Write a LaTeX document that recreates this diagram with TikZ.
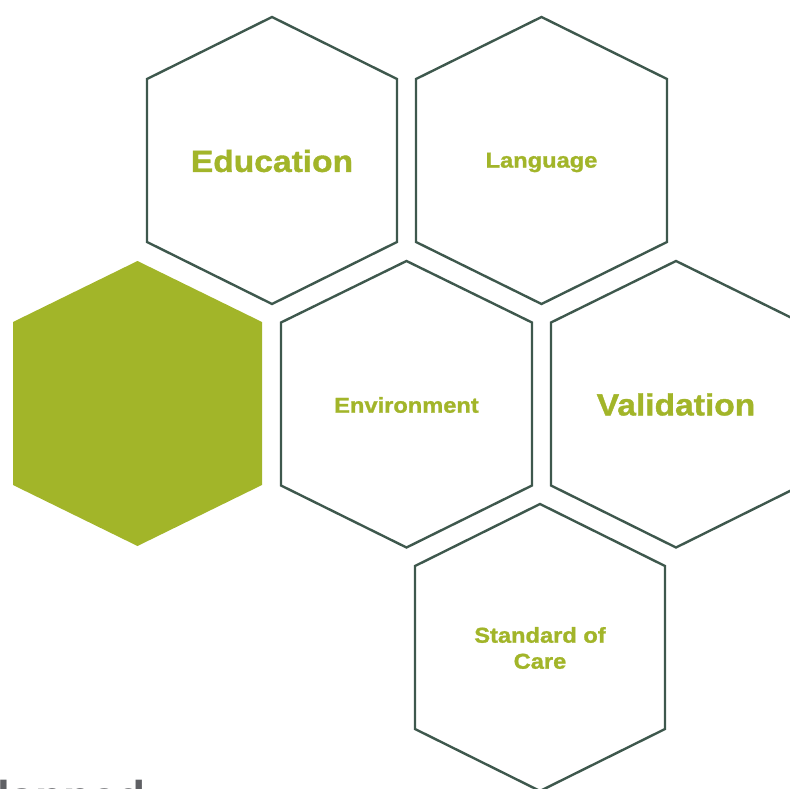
\documentclass[tikz,border=0pt]{standalone}
\usepackage{fontspec}
\setmainfont{Liberation Sans}
\newfontfamily\labelfont[FakeStretch=1.1,FakeBold=1.2]{Liberation Sans Bold}
\definecolor{hexgreen}{RGB}{162,181,41}
\definecolor{hexline}{RGB}{62,88,77}
\definecolor{slidegray}{RGB}{95,96,100}
\tikzset{
  hexborder/.style={draw=hexline, line width=2.4pt, line join=miter, fill=white},
  hexfill/.style={fill=hexgreen, draw=none},
  smalllabel/.style={text=hexgreen, font=\labelfont\fontsize{21.5}{26}\selectfont, align=center},
  biglabel/.style={text=hexgreen, font=\labelfont\fontsize{30.5}{36}\selectfont, align=center},
}
\begin{document}
\begin{tikzpicture}[x=1pt,y=-1pt]
\useasboundingbox (0,0) rectangle (790,789);
\clip (0,0) rectangle (790,789);
% hexagons (centre, half width 125, shoulder 81.5, tip 143.5)
\draw[hexborder] (272,160.5) ++(0,-143.5) -- ++(125,62) -- ++(0,163) -- ++(-125,62) -- ++(-125,-62) -- ++(0,-163) -- cycle;
\draw[hexborder] (541.5,160.5) ++(0,-143.5) -- ++(125.5,62) -- ++(0,163) -- ++(-125.5,62) -- ++(-125.5,-62) -- ++(0,-163) -- cycle;
\fill[hexfill] (137.5,403.5) ++(0,-142.5) -- ++(124.5,61) -- ++(0,163) -- ++(-124.5,61) -- ++(-124.5,-61) -- ++(0,-163) -- cycle;
\draw[hexborder] (406.5,404) ++(0,-143) -- ++(125.5,61.5) -- ++(0,163) -- ++(-125.5,62) -- ++(-125.5,-62) -- ++(0,-163) -- cycle;
\draw[hexborder] (676,404) ++(0,-143) -- ++(125,61.5) -- ++(0,163) -- ++(-125,62) -- ++(-125,-62) -- ++(0,-163) -- cycle;
\draw[hexborder] (540,647.5) ++(0,-143.5) -- ++(125,62) -- ++(0,163) -- ++(-125,62) -- ++(-125,-62) -- ++(0,-163) -- cycle;
% labels
\node[biglabel]   (edu)  at (272,161)   {Education};
\node[smalllabel] (lang) at (541.5,162.5) {Language};
\node[smalllabel] (env)  at (406.5,405) {Environment};
\node[biglabel]   (val)  at (676,404.5) {Validation};
\node[smalllabel] (soc)  at (540,648)   {Standard of\\Care};
% cut-off slide text
\node[anchor=base west, inner sep=0pt, text=slidegray,
      font=\bfseries\fontsize{46}{50}\selectfont] (cut) at (-3,813) {lapped};
\end{tikzpicture}
\end{document}
